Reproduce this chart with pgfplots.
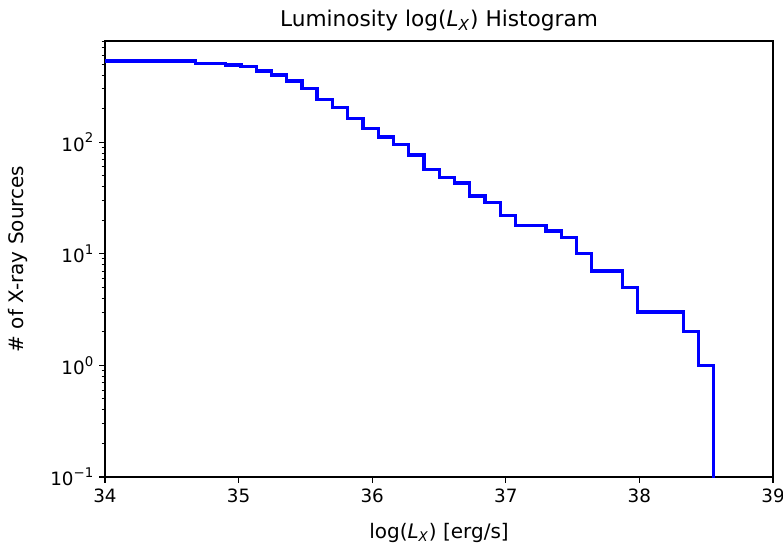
\documentclass[border=0pt]{standalone}
\usepackage{fontspec}
\setmainfont{DejaVu Sans}
\usepackage{pgfplots}
\pgfplotsset{compat=1.18}

% power-of-ten tick label with a raised exponent
\newcommand{\tp}[1]{10\raisebox{0.45em}{\fontsize{8}{9}\selectfont #1}}

\begin{document}
\begin{tikzpicture}
\begin{axis}[
  name=main,
  scale only axis,
  width=400.8pt, height=261.6pt,
  xmin=34, xmax=39,
  ymode=log, ymin=0.1, ymax=807,
  xtick={34,35,36,37,38,39},
  xticklabels={34,35,36,37,38,39},
  ytick={0.1,1,10,100},
  yticklabels={\tp{−1},\tp{0},\tp{1},\tp{2}},
  minor ytick={0.2,0.3,0.4,0.5,0.6,0.7,0.8,0.9,2,3,4,5,6,7,8,9,20,30,40,50,60,70,80,90,200,300,400,500,600,700,800},
  tick pos=left,
  tick align=outside,
  major tick length=3.5pt, minor tick length=2pt,
  major tick style={black, line width=0.8pt},
  minor tick style={black, line width=0.6pt},
  axis line style={black, line width=0.8pt},
  tick label style={font=\fontsize{11}{13}\selectfont},
  label style={font=\fontsize{12}{14}\selectfont},
  title style={font=\fontsize{13}{15}\selectfont, at={(axis description cs:0.5,1.048)}, anchor=center, yshift=-6pt},
  xlabel style={at={(axis description cs:0.5,-0.128)}, anchor=center},
  ylabel style={at={(axis description cs:-0.130,0.5)}, anchor=center},
  title={Luminosity log(\textit{L}\textsubscript{\textit{X}}) Histogram},
  xlabel={log(\textit{L}\textsubscript{\textit{X}}) [erg/s]},
  ylabel={\# of X-ray Sources},
]
% cumulative source counts above each luminosity bin edge
\addplot[const plot mark left, blue, line width=2pt] coordinates {
  (34,535)
  (34.675,510)
  (34.789,508)
  (34.903,492)
  (35.017,476)
  (35.132,435)
  (35.246,400)
  (35.360,353)
  (35.474,302)
  (35.588,240)
  (35.702,206)
  (35.817,162)
  (35.931,132)
  (36.045,111)
  (36.159,95)
  (36.273,77)
  (36.387,57)
  (36.502,48)
  (36.616,43)
  (36.730,33)
  (36.844,29)
  (36.958,22)
  (37.072,18)
  (37.187,18)
  (37.301,16)
  (37.415,14)
  (37.529,10)
  (37.643,7)
  (37.757,7)
  (37.871,5)
  (37.986,3)
  (38.100,3)
  (38.214,3)
  (38.328,2)
  (38.442,1)
  (38.557,0.01)
};
\end{axis}
\pgfresetboundingbox
\path ([xshift=-63pt,yshift=-42.6pt]main.south west) rectangle ([xshift=6pt,yshift=24.6pt]main.north east);
\end{tikzpicture}
\end{document}
